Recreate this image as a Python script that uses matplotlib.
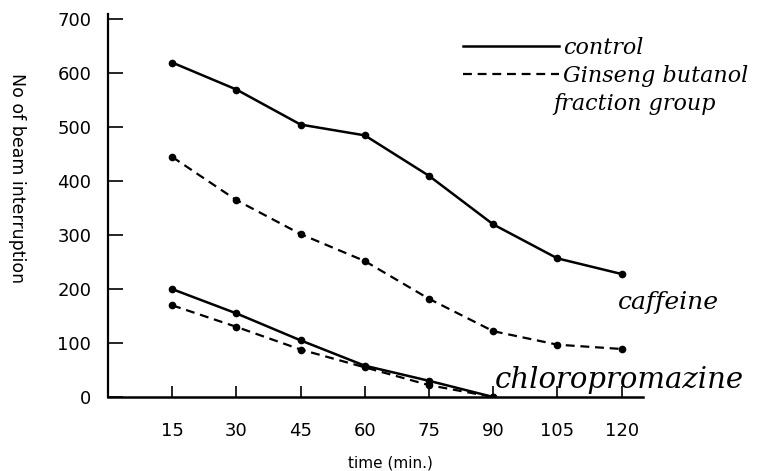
import matplotlib
matplotlib.use("Agg")
import matplotlib.pyplot as plt
import numpy as np

# time points (min.)
times = [15, 30, 45, 60, 75, 90, 105, 120]
times_cpz = [15, 30, 45, 60, 75, 90]

# caffeine groups
control_caffeine = [620, 570, 505, 485, 410, 320, 257, 228]
ginseng_caffeine = [445, 365, 302, 252, 182, 122, 97, 89]

# chlorpromazine groups
control_cpz = [200, 155, 105, 58, 30, 0]
ginseng_cpz = [170, 130, 88, 55, 22, 0]

y_ticks = [0, 100, 200, 300, 400, 500, 600, 700]

hand = dict(family="DejaVu Serif", style="italic")
dash = (0, (4, 2.6))

fig = plt.figure(figsize=(7.66, 4.71), dpi=100)
ax = fig.add_axes([108/766, 74/471, (643-108)/766, (457-74)/471])

ax.plot(times, control_caffeine, color="black", lw=1.8, marker="o", ms=4.5, label="control")
ax.plot(times, ginseng_caffeine, color="black", lw=1.6, ls=dash, marker="o", ms=4.5,
        label="Ginseng butanol")
ax.plot(times_cpz, control_cpz, color="black", lw=1.8, marker="o", ms=4.5)
ax.plot(times_cpz, ginseng_cpz, color="black", lw=1.6, ls=dash, marker="o", ms=4.5)

ax.set_xlim(0, 125)
ax.set_ylim(0, 710)
ax.set_xticks(times)
ax.set_yticks(y_ticks)
ax.spines["top"].set_visible(False)
ax.spines["right"].set_visible(False)
ax.spines["left"].set_linewidth(1.6)
ax.spines["bottom"].set_linewidth(1.8)
ax.tick_params(axis="y", direction="in", length=11, width=1.2, labelsize=13, pad=12)
ax.tick_params(axis="x", direction="in", length=8, width=1.2, labelsize=13, pad=18)
ax.set_xlabel("time (min.)", fontsize=11)
ax.xaxis.set_label_coords((390-108)/535, -(455-397)/383)

fig.text(17/766, 1 - 178/471, "No of beam interruption", rotation=270,
         ha="center", va="center", fontsize=12.5)

leg = ax.legend(loc="upper left", bbox_to_anchor=(452/766, 1 - 26/471),
                bbox_transform=fig.transFigure, frameon=False, borderpad=0,
                handlelength=4.3, handletextpad=0.2, labelspacing=0.25,
                prop=dict(size=16, **hand))
for line in leg.get_lines():
    line.set_marker("")
fig.text(553/766, 1 - 104/471, "fraction group", fontsize=16, ha="left", va="center", **hand)

fig.text(618/766, 1 - 303/471, "caffeine", fontsize=18, ha="left", va="center", **hand)
fig.text(495/766, 1 - 380/471, "chloropromazine", fontsize=21, ha="left", va="center", **hand)

fig.savefig("out.png", dpi=100)
